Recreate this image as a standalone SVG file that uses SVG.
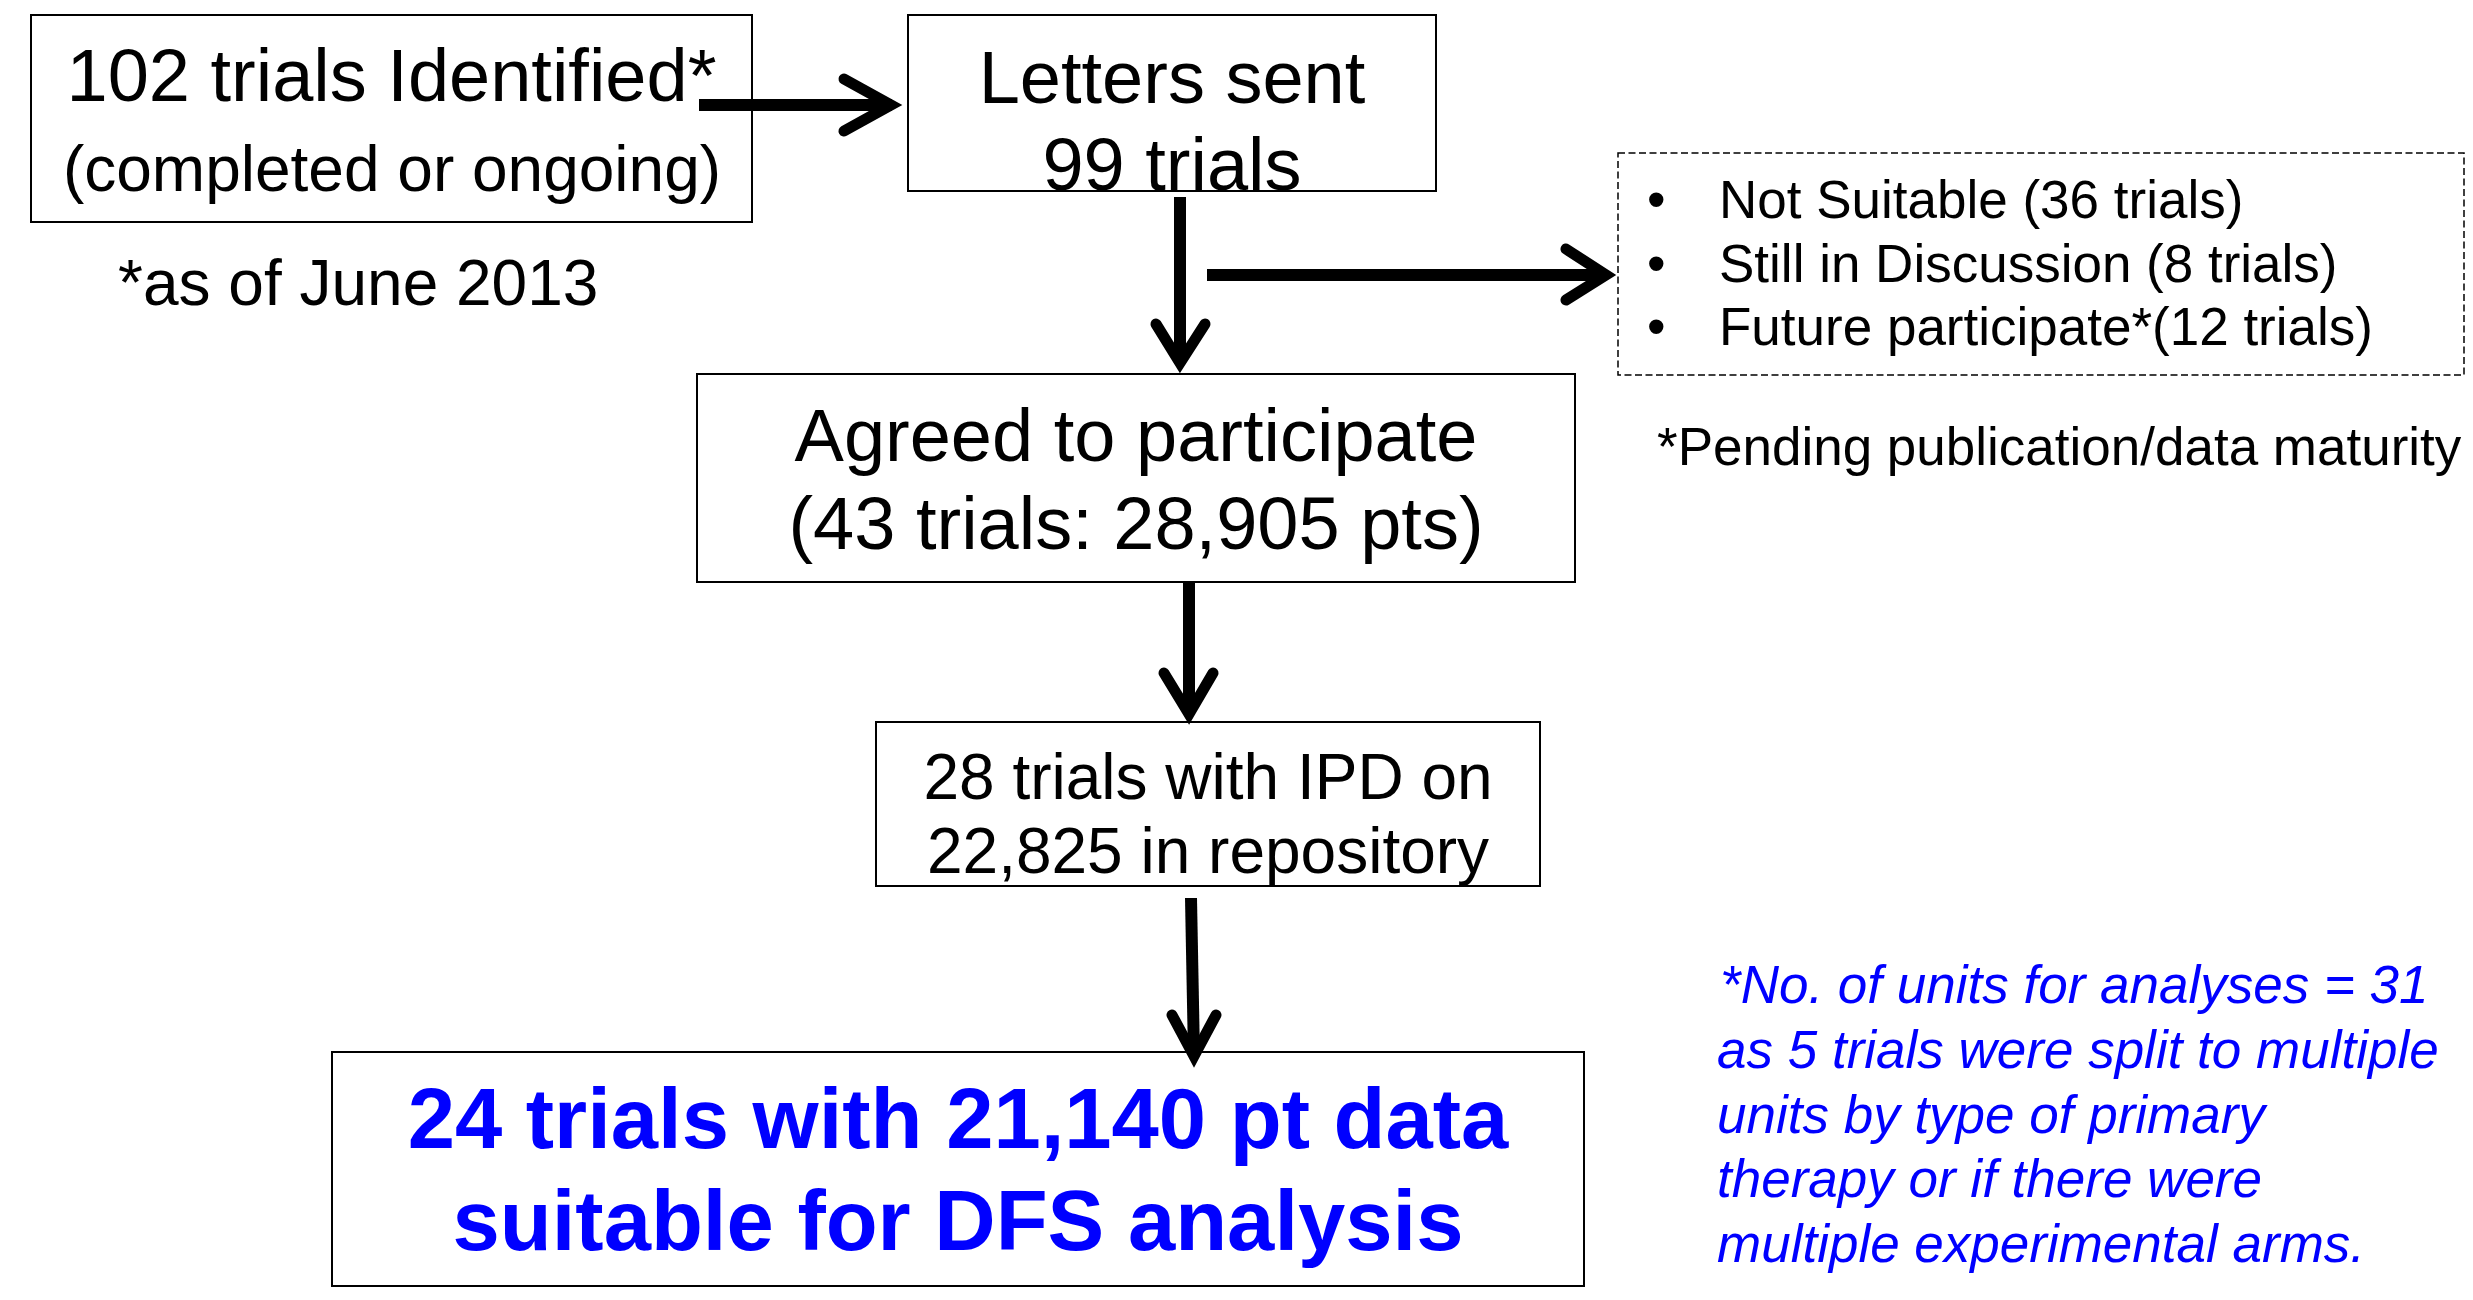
<svg xmlns="http://www.w3.org/2000/svg" width="2473" height="1300" viewBox="0 0 2473 1300">
  <style>
    .box { fill: #ffffff; stroke: #000000; stroke-width: 2; }
    .dash { fill: #ffffff; stroke: #000000; stroke-width: 1.5; stroke-dasharray: 7 3.5; }
    .t { font-family: "Liberation Sans", Arial, sans-serif; fill: #000000; }
    .mid { text-anchor: middle; }
    .blue { fill: #0000ff; }
    .b { font-weight: bold; }
    .i { font-style: italic; }
    .shaft { stroke: #000000; stroke-width: 12; fill: none; stroke-linecap: butt; }
    .head { stroke: #000000; stroke-width: 11; fill: none; stroke-linecap: round; stroke-linejoin: miter; stroke-miterlimit: 6; }
  </style>

  <rect width="2473" height="1300" fill="#ffffff"/>

  <g id="node-identified">
    <rect class="box" x="31" y="15" width="721" height="207"/>
    <text class="t mid" x="391.5" y="101" font-size="74">102 trials Identified*</text>
    <text class="t mid" x="392" y="191" font-size="64">(completed or ongoing)</text>
  </g>

  <g id="note-date">
    <text class="t" x="118" y="305" font-size="64">*as of June 2013</text>
  </g>

  <g id="node-letters">
    <rect class="box" x="908" y="15" width="528" height="176"/>
    <text class="t mid" x="1172" y="103" font-size="74">Letters sent</text>
    <text class="t mid" x="1172" y="190" font-size="74">99 trials</text>
  </g>

  <g id="node-excluded">
    <rect class="dash" x="1618" y="153" width="846" height="222"/>
    <text class="t" x="1647" y="218" font-size="53">•</text>
    <text class="t" x="1719" y="218" font-size="53">Not Suitable (36 trials)</text>
    <text class="t" x="1647" y="282" font-size="53">•</text>
    <text class="t" x="1719" y="282" font-size="53">Still in Discussion (8 trials)</text>
    <text class="t" x="1647" y="345" font-size="53">•</text>
    <text class="t" x="1719" y="345" font-size="53">Future participate*(12 trials)</text>
  </g>

  <g id="note-pending">
    <text class="t" x="1657" y="465" font-size="53">*Pending publication/data maturity</text>
  </g>

  <g id="node-agreed">
    <rect class="box" x="697" y="374" width="878" height="208"/>
    <text class="t mid" x="1136" y="461" font-size="74">Agreed to participate</text>
    <text class="t mid" x="1136" y="549" font-size="74">(43 trials: 28,905 pts)</text>
  </g>

  <g id="node-repository">
    <rect class="box" x="876" y="722" width="664" height="164"/>
    <text class="t mid" x="1208" y="799" font-size="64">28 trials with IPD on</text>
    <text class="t mid" x="1208" y="873" font-size="64">22,825 in repository</text>
  </g>

  <g id="node-analysis">
    <rect class="box" x="332" y="1052" width="1252" height="234"/>
    <text class="t mid blue b" x="958" y="1148" font-size="85">24 trials with 21,140 pt data</text>
    <text class="t mid blue b" x="958" y="1250" font-size="85">suitable for DFS analysis</text>
  </g>

  <g id="note-units">
    <text class="t blue i" x="1720" y="1003" font-size="53">*No. of units for analyses = 31</text>
    <text class="t blue i" x="1717" y="1068" font-size="53">as 5 trials were split to multiple</text>
    <text class="t blue i" x="1717" y="1133" font-size="53">units by type of primary</text>
    <text class="t blue i" x="1717" y="1197" font-size="53">therapy or if there were</text>
    <text class="t blue i" x="1717" y="1262" font-size="53">multiple experimental arms.</text>
  </g>

  <!-- connectors, drawn over the boxes -->
  <g id="connectors">
    <!-- identified -> letters -->
    <line class="shaft" x1="699" y1="105" x2="892" y2="105"/>
    <polyline class="head" points="844,79 891,105 844,131"/>
    <!-- letters -> agreed -->
    <line class="shaft" x1="1180" y1="197" x2="1180" y2="364"/>
    <polyline class="head" points="1156,324 1180,363 1205,324"/>
    <!-- letters -> excluded list -->
    <line class="shaft" x1="1207" y1="275" x2="1606" y2="275"/>
    <polyline class="head" points="1566,249 1606,275 1566,300"/>
    <!-- agreed -> repository -->
    <line class="shaft" x1="1189" y1="582" x2="1189" y2="714"/>
    <polyline class="head" points="1164,673 1189,714 1213,673"/>
    <!-- repository -> analysis set -->
    <line class="shaft" x1="1191" y1="898" x2="1194" y2="1056"/>
    <polyline class="head" points="1172,1015 1194,1056 1216,1015"/>
  </g>
</svg>
